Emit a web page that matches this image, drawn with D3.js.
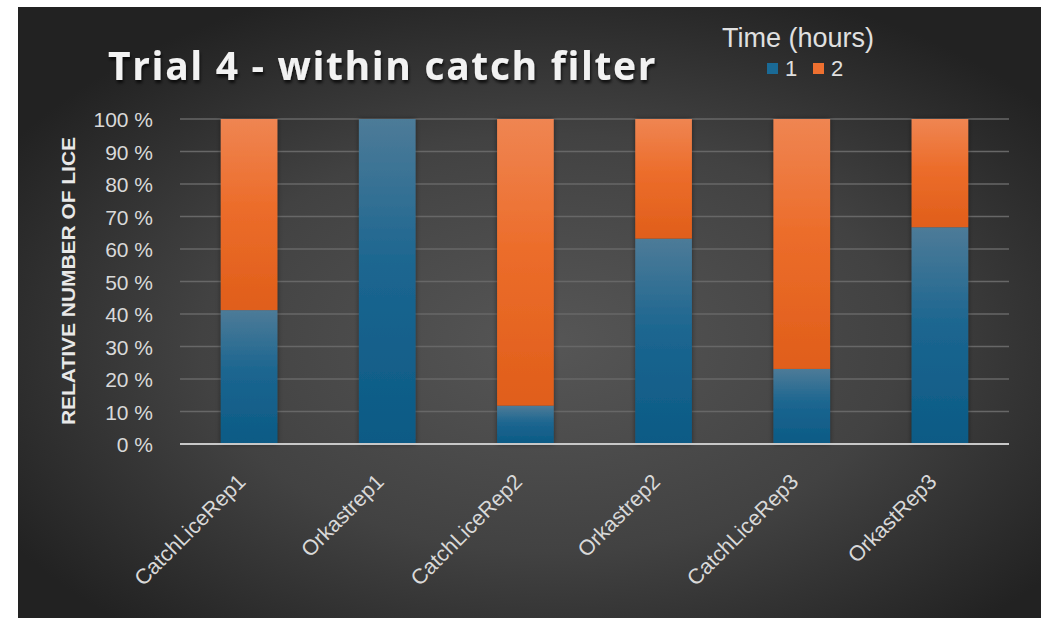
<!DOCTYPE html>
<html>
<head>
<meta charset="utf-8">
<script src="https://cdn.jsdelivr.net/npm/d3@7"></script>
<style>
  html, body { margin: 0; padding: 0; background: #ffffff; }
  svg { display: block; }
</style>
</head>
<body>
<svg id="chart" width="1047" height="618"></svg>
<script>
const categories = ["CatchLiceRep1", "Orkastrep1", "CatchLiceRep2", "Orkastrep2", "CatchLiceRep3", "OrkastRep3"];
const hour1 = [41.2, 100, 11.8, 63.2, 23.1, 66.7];
const hour2 = [58.8, 0, 88.2, 36.8, 76.9, 33.3];
const seriesNames = ["1", "2"];
const yTicks = [0, 10, 20, 30, 40, 50, 60, 70, 80, 90, 100];
const titleText = "Trial 4 - within catch filter";
const legendTitle = "Time (hours)";
const yAxisTitle = "RELATIVE NUMBER OF LICE";

const svg = d3.select("#chart");
const defs = svg.append("defs");

// background gradient
const bg = defs.append("radialGradient").attr("id", "bgGrad")
  .attr("cx", "52%").attr("cy", "55%").attr("r", "62%");
bg.append("stop").attr("offset", "0%").attr("stop-color", "#565656");
bg.append("stop").attr("offset", "55%").attr("stop-color", "#424242");
bg.append("stop").attr("offset", "100%").attr("stop-color", "#222222");

const gBlue = defs.append("linearGradient").attr("id", "gBlue").attr("x1", 0).attr("y1", 0).attr("x2", 0).attr("y2", 1);
gBlue.append("stop").attr("offset", "0%").attr("stop-color", "#4d7b98");
gBlue.append("stop").attr("offset", "45%").attr("stop-color", "#1c6690");
gBlue.append("stop").attr("offset", "100%").attr("stop-color", "#0b5a85");
const gOrange = defs.append("linearGradient").attr("id", "gOrange").attr("x1", 0).attr("y1", 0).attr("x2", 0).attr("y2", 1);
gOrange.append("stop").attr("offset", "0%").attr("stop-color", "#ef8552");
gOrange.append("stop").attr("offset", "45%").attr("stop-color", "#ec6d2b");
gOrange.append("stop").attr("offset", "100%").attr("stop-color", "#e05e1a");

const shadow = defs.append("filter").attr("id", "barShadow").attr("x", "-30%").attr("y", "-10%").attr("width", "160%").attr("height", "120%");
shadow.append("feDropShadow").attr("dx", 0).attr("dy", 0).attr("stdDeviation", 2.5).attr("flood-color", "#000").attr("flood-opacity", 0.45);
const tshadow = defs.append("filter").attr("id", "txtShadow").attr("x", "-10%").attr("y", "-30%").attr("width", "120%").attr("height", "170%");
tshadow.append("feDropShadow").attr("dx", 1).attr("dy", 3).attr("stdDeviation", 1.5).attr("flood-color", "#000").attr("flood-opacity", 0.7);

svg.append("rect").attr("x", 18).attr("y", 7).attr("width", 1023).attr("height", 611).attr("fill", "url(#bgGrad)");

const margin = { left: 180, right: 1009, top: 119, bottom: 444 };
const x = d3.scaleBand().domain(categories).range([margin.left, margin.right]).paddingInner(0.59).paddingOuter(0.295);
const y = d3.scaleLinear().domain([0, 100]).range([margin.bottom, margin.top]);

// gridlines
svg.append("g").selectAll("line").data(yTicks.filter(d => d > 0)).join("line")
  .attr("x1", margin.left).attr("x2", margin.right)
  .attr("y1", d => y(d)).attr("y2", d => y(d))
  .attr("stroke", "#676767").attr("stroke-width", 1.5);

// y tick labels
const yAxis = d3.axisLeft(y).tickValues(yTicks).tickFormat(d => d + " %").tickSize(0).tickPadding(0);
const yg = svg.append("g").attr("transform", "translate(153,0)").call(yAxis);
yg.select(".domain").remove();
yg.selectAll("text").attr("fill", "#d9d9d9").attr("font-family", "Liberation Sans, Arial, sans-serif").attr("font-size", 21).attr("dy", "0.36em");

// stacked bars
const rows = categories.map((c, i) => ({ cat: c, "1": hour1[i], "2": hour2[i] }));
const stack = d3.stack().keys(seriesNames)(rows);
const fills = { "1": "url(#gBlue)", "2": "url(#gOrange)" };
const barG = svg.append("g").attr("filter", "url(#barShadow)");
stack.forEach(layer => {
  barG.append("g").selectAll("rect").data(layer.filter(d => d[1] - d[0] > 0)).join("rect")
    .attr("x", d => x(d.data.cat))
    .attr("width", x.bandwidth())
    .attr("y", d => y(d[1]))
    .attr("height", d => y(d[0]) - y(d[1]))
    .attr("fill", fills[layer.key]);
});

// x axis line
svg.append("line").attr("x1", margin.left).attr("x2", margin.right)
  .attr("y1", y(0)).attr("y2", y(0)).attr("stroke", "#c8c8c8").attr("stroke-width", 2);

// x labels
const xAxis = d3.axisBottom(x).tickSize(0).tickPadding(0);
const xg = svg.append("g").attr("transform", `translate(0,${y(0)})`).call(xAxis);
xg.select(".domain").remove();
xg.selectAll("text")
  .attr("fill", "#d9d9d9").attr("font-family", "Liberation Sans, Arial, sans-serif").attr("font-size", 21.5)
  .attr("text-anchor", "end").attr("dy", null).attr("y", 0)
  .attr("transform", "translate(-2,39) rotate(-45)");

// y axis title
svg.append("text").attr("transform", "translate(75,281) rotate(-90)")
  .attr("text-anchor", "middle").attr("fill", "#e8e8e8")
  .attr("font-family", "Liberation Sans, Arial, sans-serif").attr("font-weight", "bold").attr("font-size", 18)
  .attr("textLength", 288).attr("lengthAdjust", "spacingAndGlyphs")
  .text(yAxisTitle);

// title
svg.append("text").attr("x", 108).attr("y", 80)
  .attr("fill", "#f2f2f2").attr("filter", "url(#txtShadow)")
  .attr("font-family", "Open Sans, sans-serif").attr("font-weight", "bold").attr("font-size", 39)
  .attr("letter-spacing", 2.5)
  .attr("textLength", 550).attr("lengthAdjust", "spacing")
  .text(titleText);

// legend
svg.append("text").attr("x", 798).attr("y", 47).attr("text-anchor", "middle")
  .attr("fill", "#e0e0e0").attr("font-family", "Liberation Sans, Arial, sans-serif").attr("font-size", 27)
  .text(legendTitle);
const legendColors = { "1": "#1a6a96", "2": "#ee7030" };
const legendX = { "1": 767, "2": 813 };
seriesNames.forEach(s => {
  svg.append("rect").attr("x", legendX[s]).attr("y", 63).attr("width", 11).attr("height", 11).attr("fill", legendColors[s]);
  svg.append("text").attr("x", legendX[s] + 18).attr("y", 76)
    .attr("fill", "#e0e0e0").attr("font-family", "Liberation Sans, Arial, sans-serif").attr("font-size", 22)
    .text(s);
});
</script>
</body>
</html>
